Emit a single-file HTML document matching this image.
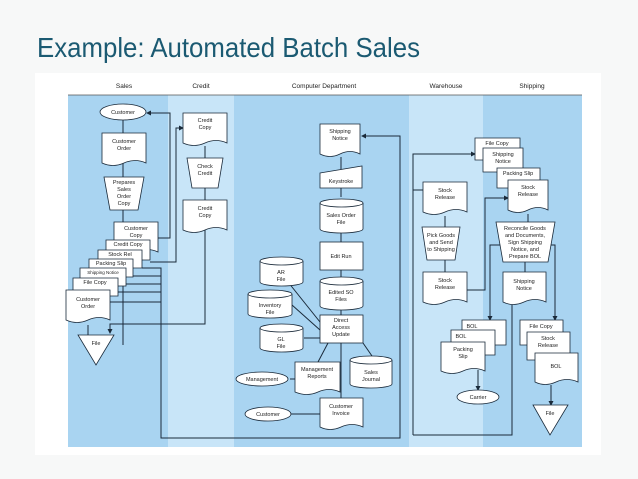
<!DOCTYPE html>
<html><head><meta charset="utf-8"><style>
html,body{margin:0;padding:0;background:#f7f8f8;width:638px;height:479px;overflow:hidden}
svg{display:block}
text{font-family:"Liberation Sans",sans-serif}
.t{font-size:5.5px;fill:#222;text-anchor:middle}
.s{fill:#fff;stroke:#1a2a3a;stroke-width:0.8}
.l{fill:none;stroke:#1a2a3a;stroke-width:1}
</style></head><body>
<svg width="638" height="479" viewBox="0 0 638 479" xmlns="http://www.w3.org/2000/svg">
<defs><marker id="a" markerWidth="5" markerHeight="5" refX="4" refY="2.5" orient="auto"><path d="M0,0 L5,2.5 L0,5z" fill="#1a2a3a"/></marker></defs>
<text x="37" y="57" font-size="28" fill="#1b5a72" textLength="383" lengthAdjust="spacingAndGlyphs">Example: Automated Batch Sales</text>
<rect x="35" y="73" width="566" height="382" fill="#fff"/>
<rect x="68" y="95" width="100" height="352" fill="#a9d4f1"/>
<rect x="168" y="95" width="66" height="352" fill="#c8e5f8"/>
<rect x="234" y="95" width="175" height="352" fill="#a9d4f1"/>
<rect x="409" y="95" width="74" height="352" fill="#c8e5f8"/>
<rect x="483" y="95" width="99" height="352" fill="#a9d4f1"/>
<line x1="68" y1="95" x2="582" y2="95" stroke="#555" stroke-width="0.8"/>
<g class="t" style="font-size:6.5px">
<text x="124" y="88">Sales</text><text x="201" y="88">Credit</text><text x="324" y="88">Computer Department</text><text x="446" y="88">Warehouse</text><text x="532" y="88">Shipping</text></g>

<!-- connectors -->
<g class="l">
<path d="M123,120 V345"/>
<path d="M158,238 H170 V113 H147" marker-end="url(#a)"/>
<path d="M150,262 H176 V128 H183" marker-end="url(#a)"/>
<path d="M142,268 H161 V438 H400 V136 H362" marker-end="url(#a)"/>
<path d="M133,276 H161 M126,284 H161 M118,292 H161 M110,302 H161"/>
<path d="M205,146 V324 H110 V333" marker-end="url(#a)"/>
<path d="M88,325 V335"/>
<path d="M341,157 V197 M341,233 V242 M341,270 V277 M341,310 V315 M341,343 V398"/>
<path d="M320,322 L288,282 M320,330 L292,305 M320,338 H304 M328,343 L318,362 M290,379 H295 M363,343 L372,356 M245,414 H320"/>
<path d="M413,435 V154 H475" marker-end="url(#a)"/>
<path d="M413,190 H423"/>
<path d="M445,216 V227 M445,260 V272"/>
<path d="M467,290 H485 V198 H508" marker-end="url(#a)"/>
<path d="M528,214 V222 M525,262 V272"/>
<path d="M512,305 V435 H413"/>
<path d="M500,245 H490 V320" marker-end="url(#a)"/>
<path d="M550,245 H555 V320" marker-end="url(#a)"/>
<path d="M478,370 V390" marker-end="url(#a)"/>
<path d="M551,385 V405" marker-end="url(#a)"/>
</g>

<!-- Sales -->
<ellipse class="s" cx="123" cy="112" rx="23" ry="8"/><text class="t" x="123" y="114">Customer</text>
<path class="s" d="M102,133H146V163Q135,158 124,163T102,163Z"/><text class="t" x="124" y="143">Customer</text><text class="t" x="124" y="150">Order</text>
<path class="s" d="M104,177H144L138,210H110Z"/><text class="t" x="124" y="184">Prepares</text><text class="t" x="124" y="191">Sales</text><text class="t" x="124" y="198">Order</text><text class="t" x="124" y="205">Copy</text>
<path class="s" d="M114,222H158V252Q147,247 136,252T114,252Z"/><text class="t" x="136" y="230">Customer</text><text class="t" x="136" y="237">Copy</text>
<path class="s" d="M106,240H150V260H106Z"/><text class="t" x="128" y="246">Credit Copy</text>
<path class="s" d="M98,250H142V268H98Z"/><text class="t" x="120" y="256">Stock Rel</text>
<path class="s" d="M89,259H133V277H89Z"/><text class="t" x="111" y="265">Packing Slip</text>
<path class="s" d="M80,268H126V286H80Z"/><text class="t" x="103" y="274" style="font-size:4.5px">Shipping Notice</text>
<path class="s" d="M73,278H118V296H73Z"/><text class="t" x="95" y="284">File Copy</text>
<path class="s" d="M66,290H110V320Q99,315 88,320T66,320Z"/><text class="t" x="88" y="301">Customer</text><text class="t" x="88" y="308">Order</text>
<path class="s" d="M78,335H114L96,365Z"/><text class="t" x="96" y="345">File</text>

<!-- Credit -->
<path class="s" d="M183,113H227V143Q216,138 205,143T183,143Z"/><text class="t" x="205" y="122">Credit</text><text class="t" x="205" y="129">Copy</text>
<path class="s" d="M187,158H223L218,188H192Z"/><text class="t" x="205" y="168">Check</text><text class="t" x="205" y="175">Credit</text>
<path class="s" d="M183,200H227V230Q216,225 205,230T183,230Z"/><text class="t" x="205" y="210">Credit</text><text class="t" x="205" y="217">Copy</text>

<!-- Computer -->
<path class="s" d="M320,124H360V154Q350,149 340,154T320,154Z"/><text class="t" x="340" y="133">Shipping</text><text class="t" x="340" y="140">Notice</text>
<path class="s" d="M320,173L362,166V188H320Z"/><text class="t" x="341" y="183">Keystroke</text>
<g class="s"><path d="M320,203V229A21.5,4 0 0 0 363,229V203"/><ellipse cx="341.5" cy="203" rx="21.5" ry="4"/></g><text class="t" x="341" y="217">Sales Order</text><text class="t" x="341" y="224">File</text>
<rect class="s" x="320" y="242" width="43" height="28"/><text class="t" x="341" y="258">Edit Run</text>
<g class="s"><path d="M320,281V306A21.5,4 0 0 0 363,306V281"/><ellipse cx="341.5" cy="281" rx="21.5" ry="4"/></g><text class="t" x="341" y="294">Edited SO</text><text class="t" x="341" y="301">Files</text>
<rect class="s" x="320" y="315" width="43" height="28"/><text class="t" x="341" y="322">Direct</text><text class="t" x="341" y="329">Access</text><text class="t" x="341" y="336">Update</text>
<g class="s"><path d="M260,261V282A21.5,4 0 0 0 303,282V261"/><ellipse cx="281.5" cy="261" rx="21.5" ry="4"/></g><text class="t" x="281" y="274">AR</text><text class="t" x="281" y="281">File</text>
<g class="s"><path d="M248,294V314A22,4 0 0 0 292,314V294"/><ellipse cx="270" cy="294" rx="22" ry="4"/></g><text class="t" x="270" y="307">Inventory</text><text class="t" x="270" y="314">File</text>
<g class="s"><path d="M260,328V348A21.5,4 0 0 0 303,348V328"/><ellipse cx="281.5" cy="328" rx="21.5" ry="4"/></g><text class="t" x="281" y="341">GL</text><text class="t" x="281" y="348">File</text>
<path class="s" d="M295,362H340V392Q329,387 318,392T295,392Z"/><text class="t" x="317" y="371">Management</text><text class="t" x="317" y="378">Reports</text>
<ellipse class="s" cx="262" cy="379" rx="26" ry="7"/><text class="t" x="262" y="381">Management</text>
<g class="s"><path d="M350,360V384A21,4 0 0 0 392,384V360"/><ellipse cx="371" cy="360" rx="21" ry="4"/></g><text class="t" x="371" y="374">Sales</text><text class="t" x="371" y="381">Journal</text>
<path class="s" d="M320,398H363V427Q352,422 341,427T320,427Z"/><text class="t" x="341" y="408">Customer</text><text class="t" x="341" y="415">Invoice</text>
<ellipse class="s" cx="268" cy="414" rx="23" ry="7"/><text class="t" x="268" y="416">Customer</text>

<!-- Warehouse -->
<path class="s" d="M423,182H467V212Q456,207 445,212T423,212Z"/><text class="t" x="445" y="192">Stock</text><text class="t" x="445" y="199">Release</text>
<path class="s" d="M422,227H460L455,260H427Z"/><text class="t" x="441" y="237">Pick Goods</text><text class="t" x="441" y="244">and Send</text><text class="t" x="441" y="251">to Shipping</text>
<path class="s" d="M423,272H467V302Q456,297 445,302T423,302Z"/><text class="t" x="445" y="282">Stock</text><text class="t" x="445" y="289">Release</text>

<!-- Shipping -->
<path class="s" d="M475,138H520V160H475Z"/><text class="t" x="497" y="145">File Copy</text>
<path class="s" d="M483,148H523V172H483Z"/><text class="t" x="503" y="156">Shipping</text><text class="t" x="503" y="163">Notice</text>
<path class="s" d="M497,168H540V188H497Z"/><text class="t" x="518" y="175">Packing Slip</text>
<path class="s" d="M508,180H548V210Q538,205 528,210T508,210Z"/><text class="t" x="528" y="189">Stock</text><text class="t" x="528" y="196">Release</text>
<path class="s" d="M496,222H555L548,262H503Z"/><text class="t" x="525" y="230">Reconcile Goods</text><text class="t" x="525" y="237">and Documents,</text><text class="t" x="525" y="244">Sign Shipping</text><text class="t" x="525" y="251">Notice, and</text><text class="t" x="525" y="258">Prepare BOL</text>
<path class="s" d="M503,272H546V302Q535,297 524,302T503,302Z"/><text class="t" x="524" y="283">Shipping</text><text class="t" x="524" y="290">Notice</text>
<path class="s" d="M462,320H506V345H462Z"/><text class="t" x="472" y="328">BOL</text>
<path class="s" d="M451,330H495V355H451Z"/><text class="t" x="461" y="338">BOL</text>
<path class="s" d="M441,342H485V371Q474,366 463,371T441,371Z"/><text class="t" x="463" y="351">Packing</text><text class="t" x="463" y="358">Slip</text>
<ellipse class="s" cx="478" cy="397" rx="21" ry="7"/><text class="t" x="478" y="399">Carrier</text>
<path class="s" d="M520,320H563V345H520Z"/><text class="t" x="541" y="328">File Copy</text>
<path class="s" d="M527,332H570V360H527Z"/><text class="t" x="548" y="340">Stock</text><text class="t" x="548" y="347">Release</text>
<path class="s" d="M535,353H578V382Q567,377 556,382T535,382Z"/><text class="t" x="556" y="368">BOL</text>
<path class="s" d="M533,405H568L550,435Z"/><text class="t" x="550" y="415">File</text>
</svg>
</body></html>
